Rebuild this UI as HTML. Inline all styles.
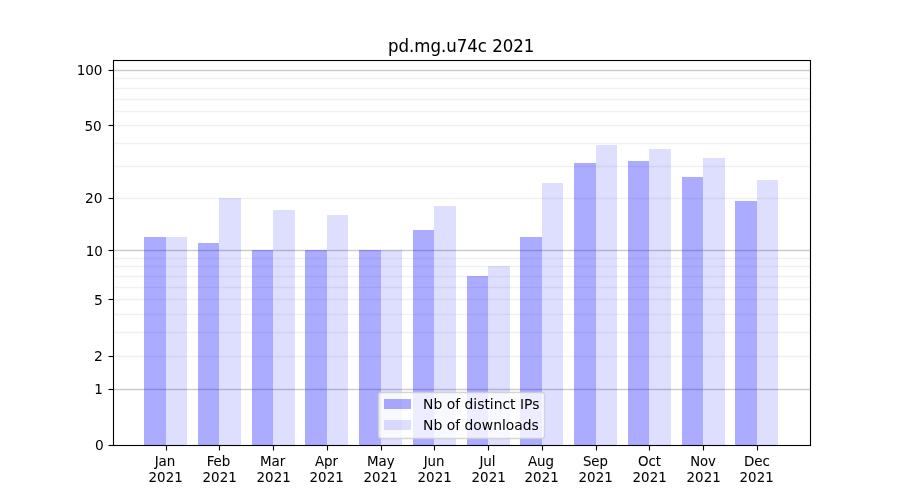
<!DOCTYPE html>
<html lang="en"><head><meta charset="utf-8"><title>pd.mg.u74c 2021</title>
<style>
html,body{margin:0;padding:0;background:#fff;}
body{width:900px;height:500px;overflow:hidden;}
svg{display:block;}
text{font-family:"DejaVu Sans","Liberation Sans",sans-serif;fill:#000;stroke:#000;stroke-width:0;}
</style></head><body>
<svg width="900" height="500" viewBox="0 0 900 500">
<rect width="900" height="500" fill="#fff"/>
<g stroke="#000" stroke-width="1.389" fill="none">
<line x1="113.5" x2="810.5" y1="70.5" y2="70.5" stroke-opacity="0.2"/>
<line x1="113.5" x2="810.5" y1="78.5" y2="78.5" stroke-opacity="0.06"/>
<line x1="113.5" x2="810.5" y1="88.5" y2="88.5" stroke-opacity="0.06"/>
<line x1="113.5" x2="810.5" y1="99.5" y2="99.5" stroke-opacity="0.06"/>
<line x1="113.5" x2="810.5" y1="111.5" y2="111.5" stroke-opacity="0.06"/>
<line x1="113.5" x2="810.5" y1="125.5" y2="125.5" stroke-opacity="0.06"/>
<line x1="113.5" x2="810.5" y1="143.5" y2="143.5" stroke-opacity="0.06"/>
<line x1="113.5" x2="810.5" y1="166.5" y2="166.5" stroke-opacity="0.06"/>
<line x1="113.5" x2="810.5" y1="198.5" y2="198.5" stroke-opacity="0.06"/>
<line x1="113.5" x2="810.5" y1="250.5" y2="250.5" stroke-opacity="0.2"/>
<line x1="113.5" x2="810.5" y1="258.5" y2="258.5" stroke-opacity="0.06"/>
<line x1="113.5" x2="810.5" y1="266.5" y2="266.5" stroke-opacity="0.06"/>
<line x1="113.5" x2="810.5" y1="276.5" y2="276.5" stroke-opacity="0.06"/>
<line x1="113.5" x2="810.5" y1="287.5" y2="287.5" stroke-opacity="0.06"/>
<line x1="113.5" x2="810.5" y1="299.5" y2="299.5" stroke-opacity="0.06"/>
<line x1="113.5" x2="810.5" y1="314.5" y2="314.5" stroke-opacity="0.06"/>
<line x1="113.5" x2="810.5" y1="332.5" y2="332.5" stroke-opacity="0.06"/>
<line x1="113.5" x2="810.5" y1="356.5" y2="356.5" stroke-opacity="0.06"/>
<line x1="113.5" x2="810.5" y1="389.5" y2="389.5" stroke-opacity="0.2"/>
</g>
<g shape-rendering="crispEdges" fill="#00f">
<rect x="144" y="237" width="22" height="209" fill-opacity="0.33"/>
<rect x="166" y="237" width="21" height="209" fill-opacity="0.13"/>
<rect x="198" y="243" width="21" height="203" fill-opacity="0.33"/>
<rect x="219" y="198" width="22" height="248" fill-opacity="0.13"/>
<rect x="252" y="250" width="21" height="196" fill-opacity="0.33"/>
<rect x="273" y="210" width="22" height="236" fill-opacity="0.13"/>
<rect x="305" y="250" width="22" height="196" fill-opacity="0.33"/>
<rect x="327" y="215" width="21" height="231" fill-opacity="0.13"/>
<rect x="359" y="250" width="22" height="196" fill-opacity="0.33"/>
<rect x="381" y="250" width="21" height="196" fill-opacity="0.13"/>
<rect x="413" y="230" width="21" height="216" fill-opacity="0.33"/>
<rect x="434" y="206" width="22" height="240" fill-opacity="0.13"/>
<rect x="467" y="276" width="21" height="170" fill-opacity="0.33"/>
<rect x="488" y="266" width="22" height="180" fill-opacity="0.13"/>
<rect x="520" y="237" width="22" height="209" fill-opacity="0.33"/>
<rect x="542" y="183" width="21" height="263" fill-opacity="0.13"/>
<rect x="574" y="163" width="22" height="283" fill-opacity="0.33"/>
<rect x="596" y="145" width="21" height="301" fill-opacity="0.13"/>
<rect x="628" y="161" width="21" height="285" fill-opacity="0.33"/>
<rect x="649" y="149" width="22" height="297" fill-opacity="0.13"/>
<rect x="682" y="177" width="21" height="269" fill-opacity="0.33"/>
<rect x="703" y="158" width="22" height="288" fill-opacity="0.13"/>
<rect x="735" y="201" width="22" height="245" fill-opacity="0.33"/>
<rect x="757" y="180" width="21" height="266" fill-opacity="0.13"/>
</g>
<g stroke="#000" stroke-width="1.111" fill="none">
<rect x="113.5" y="60.5" width="697" height="385"/>
<line x1="108.5" x2="113.5" y1="445.5" y2="445.5"/>
<line x1="108.5" x2="113.5" y1="389.5" y2="389.5"/>
<line x1="108.5" x2="113.5" y1="356.5" y2="356.5"/>
<line x1="108.5" x2="113.5" y1="299.5" y2="299.5"/>
<line x1="108.5" x2="113.5" y1="250.5" y2="250.5"/>
<line x1="108.5" x2="113.5" y1="198.5" y2="198.5"/>
<line x1="108.5" x2="113.5" y1="125.5" y2="125.5"/>
<line x1="108.5" x2="113.5" y1="70.5" y2="70.5"/>
<line x1="166.5" x2="166.5" y1="445.5" y2="450.5"/>
<line x1="219.5" x2="219.5" y1="445.5" y2="450.5"/>
<line x1="273.5" x2="273.5" y1="445.5" y2="450.5"/>
<line x1="327.5" x2="327.5" y1="445.5" y2="450.5"/>
<line x1="381.5" x2="381.5" y1="445.5" y2="450.5"/>
<line x1="434.5" x2="434.5" y1="445.5" y2="450.5"/>
<line x1="488.5" x2="488.5" y1="445.5" y2="450.5"/>
<line x1="542.5" x2="542.5" y1="445.5" y2="450.5"/>
<line x1="596.5" x2="596.5" y1="445.5" y2="450.5"/>
<line x1="649.5" x2="649.5" y1="445.5" y2="450.5"/>
<line x1="703.5" x2="703.5" y1="445.5" y2="450.5"/>
<line x1="757.5" x2="757.5" y1="445.5" y2="450.5"/>
</g>
<rect x="378.5" y="392.5" width="166" height="46" rx="2.78" ry="2.78" fill="#fff" fill-opacity="0.79" stroke="#ccc" stroke-opacity="0.8" stroke-width="1.389"/>
<g shape-rendering="crispEdges" fill="#00f"><rect x="384" y="399" width="27" height="10" fill-opacity="0.33"/><rect x="384" y="420" width="27" height="10" fill-opacity="0.13"/></g>
<text transform="translate(461.15,52) scale(0.995,1.035)" font-size="16.667" text-anchor="middle" style="stroke-width:0.05">pd.mg.u74c 2021</text>
<text transform="translate(103.75,450.3) scale(0.99,1.03)" font-size="13.889" text-anchor="end" style="stroke-width:0">0</text>
<text transform="translate(103,394.3) scale(0.975,1.04)" font-size="13.889" text-anchor="end" style="stroke-width:0">1</text>
<text transform="translate(102.75,361.3) scale(1,1.065)" font-size="13.889" text-anchor="end" style="stroke-width:0">2</text>
<text transform="translate(102.75,304.8) scale(1,1.065)" font-size="13.889" text-anchor="end" style="stroke-width:0">5</text>
<text transform="translate(103,255.8) scale(0.975,1.04)" font-size="13.889" text-anchor="end" style="stroke-width:0">10</text>
<text transform="translate(102.5,203.3) scale(0.995,1.04)" font-size="13.889" text-anchor="end" style="stroke-width:0">20</text>
<text transform="translate(101.75,130.8) scale(0.98,1.03)" font-size="13.889" text-anchor="end" style="stroke-width:0">50</text>
<text transform="translate(102.5,75.3) scale(0.975,1.04)" font-size="13.889" text-anchor="end" style="stroke-width:0">100</text>
<text transform="translate(165,466) scale(0.97,1.04)" font-size="13.889" text-anchor="middle" style="stroke-width:0.05">Jan</text>
<text transform="translate(165.65,481.5) scale(0.965,1.03)" font-size="13.889" text-anchor="middle" style="stroke-width:0.05">2021</text>
<text transform="translate(218.5,466) scale(0.965,1.025)" font-size="13.889" text-anchor="middle" style="stroke-width:0.05">Feb</text>
<text transform="translate(219.65,481.5) scale(0.965,1.03)" font-size="13.889" text-anchor="middle" style="stroke-width:0.05">2021</text>
<text transform="translate(272.6,466) scale(0.97,1.06)" font-size="13.889" text-anchor="middle" style="stroke-width:0.05">Mar</text>
<text transform="translate(273.65,481.5) scale(0.965,1.03)" font-size="13.889" text-anchor="middle" style="stroke-width:0.05">2021</text>
<text transform="translate(326.5,466) scale(0.965,1.03)" font-size="13.889" text-anchor="middle" style="stroke-width:0.05">Apr</text>
<text transform="translate(326.65,481.5) scale(0.965,1.03)" font-size="13.889" text-anchor="middle" style="stroke-width:0.05">2021</text>
<text transform="translate(380.75,466) scale(0.965,1.055)" font-size="13.889" text-anchor="middle" style="stroke-width:0.05">May</text>
<text transform="translate(380.65,481.5) scale(0.965,1.03)" font-size="13.889" text-anchor="middle" style="stroke-width:0.05">2021</text>
<text transform="translate(434.1,466) scale(0.96,1.03)" font-size="13.889" text-anchor="middle" style="stroke-width:0.05">Jun</text>
<text transform="translate(434.65,481.5) scale(0.965,1.03)" font-size="13.889" text-anchor="middle" style="stroke-width:0.05">2021</text>
<text transform="translate(487.5,466) scale(0.97,1.03)" font-size="13.889" text-anchor="middle" style="stroke-width:0.05">Jul</text>
<text transform="translate(488.65,481.5) scale(0.965,1.03)" font-size="13.889" text-anchor="middle" style="stroke-width:0.05">2021</text>
<text transform="translate(541,466) scale(0.965,1.03)" font-size="13.889" text-anchor="middle" style="stroke-width:0.05">Aug</text>
<text transform="translate(541.65,481.5) scale(0.965,1.03)" font-size="13.889" text-anchor="middle" style="stroke-width:0.05">2021</text>
<text transform="translate(595.4,466) scale(0.955,1.005)" font-size="13.889" text-anchor="middle" style="stroke-width:0.05">Sep</text>
<text transform="translate(595.65,481.5) scale(0.965,1.03)" font-size="13.889" text-anchor="middle" style="stroke-width:0.05">2021</text>
<text transform="translate(649.5,466) scale(0.965,1.015)" font-size="13.889" text-anchor="middle" style="stroke-width:0.05">Oct</text>
<text transform="translate(649.65,481.5) scale(0.965,1.03)" font-size="13.889" text-anchor="middle" style="stroke-width:0.05">2021</text>
<text transform="translate(703,466) scale(0.95,1.03)" font-size="13.889" text-anchor="middle" style="stroke-width:0.05">Nov</text>
<text transform="translate(703.65,481.5) scale(0.965,1.03)" font-size="13.889" text-anchor="middle" style="stroke-width:0.05">2021</text>
<text transform="translate(757,466) scale(0.97,1.03)" font-size="13.889" text-anchor="middle" style="stroke-width:0.05">Dec</text>
<text transform="translate(756.65,481.5) scale(0.965,1.03)" font-size="13.889" text-anchor="middle" style="stroke-width:0.05">2021</text>
<text transform="translate(423.1,409) scale(1,1.035)" font-size="13.889" text-anchor="start">Nb of distinct IPs</text>
<text transform="translate(423.1,430) scale(1,1.02)" font-size="13.889" text-anchor="start">Nb of downloads</text>
</svg>
</body></html>
